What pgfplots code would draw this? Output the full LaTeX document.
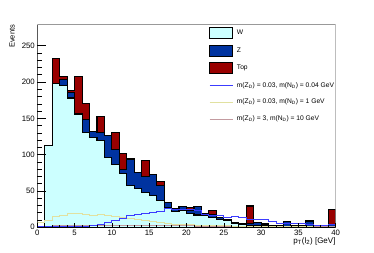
\documentclass[border=0pt]{standalone}
\usepackage{fontspec}
\setmainfont{Liberation Sans}
\usepackage{pgfplots}
\usepackage{pgfplotstable}
\pgfplotsset{compat=1.18}
\definecolor{wcol}{RGB}{204,255,255}
\definecolor{zcol}{RGB}{0,51,160}
\definecolor{tcol}{RGB}{153,0,0}
\definecolor{sone}{RGB}{60,60,255}
\definecolor{stwo}{RGB}{225,225,160}
\definecolor{sthree}{RGB}{195,155,160}
\pgfplotstableread{
x W Z T S1 S2 S3
0 0 0 0 0.5 7 0.5
1 113 0 0 0.5 9 1.5
2 198 0 34 0.5 14.6 2
3 195 8 5 0.5 16 2.5
4 178 8 2 0.5 19.3 2.5
5 155 2 51 0.5 18.5 2.5
6 130 19 22 1 18 2.5
7 124 8 0 2 17 2.5
8 120 10 22 4 17.5 2.5
9 96 30 0 7 16.6 2.5
10 86 21 23 10 15.6 2.5
11 74 6 22 12 13.8 2.5
12 58 36 0 17 12 2.5
13 53 23 0 18 11 2
14 48 22 22 19.5 9 2
15 43.5 29.5 0 20.7 7.8 2
16 36.5 21.5 5.5 22.5 6.5 2
17 27.5 7 0 26 5.5 2
18 21.5 4.6 0 25 4.5 2
19 23.5 4.9 0 25 4 2
20 19.3 4.5 3.2 24.8 3.5 2
21 17 11.4 0 23 3 1.5
22 16 3.3 0 18 2.5 1.5
23 13 5 5 16.5 2.5 1.5
24 11 3 0 16 2 1.5
25 9 1 0 13.8 2 1.5
26 5 1.3 0 15.6 1.5 1.5
27 4 1 0 13.3 1.5 1.5
28 3 2.3 24 11.4 1.2 1.5
29 3 3.3 0 11.4 1 1
30 2.5 2 0 11.4 0.8 1
31 2 1 0 7.7 0.8 1
32 1.5 1.5 0 5.5 0.6 1
33 1.5 6.2 0 5.5 0.6 1
34 1 1 0 5 0.5 1
35 1 1 0 5 0.5 1
36 1 7.7 0 4 0.5 1
37 0 0 0 2 0.4 1
38 1 0 0 2 0.4 0.5
39 0.3 3 21.5 4 0.3 0.5
40 0.3 3 21.5 4 0.3 0.5
}\data
\begin{document}
\begin{tikzpicture}
\begin{axis}[
  name=ax,
  scale only axis, width=298.4pt, height=202.6pt,
  xmin=0, xmax=40, ymin=0, ymax=279,
  axis on top,
  axis line style={draw=none},
  tick align=inside, tick pos=left,
  xtick={0,5,...,40}, ytick={0,50,...,250},
  minor x tick num=4, minor y tick num=4,
  xtick style={black, line width=0.6pt, /pgfplots/major tick length=4.5pt, /pgfplots/minor tick length=2.5pt},
  ytick style={black, line width=0.6pt, /pgfplots/major tick length=9pt, /pgfplots/minor tick length=5pt},
  /pgf/number format/assume math mode=true,
  ticklabel style={font=\fontsize{7.8}{9}\selectfont},
  yticklabel style={inner sep=0pt, xshift=-2.3pt},
  xticklabel style={inner sep=0pt, yshift=-2.6pt},
  xlabel={p\textsubscript{T}(l\textsubscript{2}) [GeV]},
  xlabel style={at={(rel axis cs:1,0)}, anchor=north east, inner sep=0pt, yshift=-9.8pt, font=\fontsize{8}{9}\selectfont},
  ylabel={Events},
  ylabel style={at={(rel axis cs:-0.0747,1)}, anchor=south east, inner sep=0pt, rotate=0, font=\fontsize{7.5}{9}\selectfont},
  legend style={at={(rel axis cs:0.5764,0.9872)}, anchor=north west,
    draw=none, fill=none, inner sep=0pt, outer sep=0pt,
    font=\fontsize{6.7}{8}\selectfont, row sep=5.7pt,
    /tikz/every odd column/.append style={column sep=3.7pt},
    cells={anchor=west}, nodes={inner sep=0pt}},
  legend cell align=left,
]
\addplot[const plot, fill=tcol, draw=black, line width=1.1pt, forget plot]
  table[x=x, y expr=\thisrow{W}+\thisrow{Z}+\thisrow{T}] {\data} \closedcycle;
\addplot[const plot, fill=zcol, draw=black, line width=1.1pt, forget plot]
  table[x=x, y expr=\thisrow{W}+\thisrow{Z}] {\data} \closedcycle;
\addplot[const plot, fill=wcol, draw=black, line width=1.1pt, forget plot]
  table[x=x, y=W] {\data} \closedcycle;
\addplot[const plot, draw=sthree, line width=0.9pt, forget plot] table[x=x, y=S3] {\data};
\addplot[const plot, draw=stwo, line width=0.9pt, forget plot] table[x=x, y=S2] {\data};
\addplot[const plot, draw=sone, line width=0.9pt, forget plot] table[x=x, y=S1] {\data};
\addlegendimage{legend image code/.code={\draw[fill=wcol, draw=black, line width=0.9pt] (0pt,-5.5pt) rectangle (23pt,5.5pt);}}
\addlegendentry{W}
\addlegendimage{legend image code/.code={\draw[fill=zcol, draw=black, line width=0.9pt] (0pt,-5.5pt) rectangle (23pt,5.5pt);}}
\addlegendentry{Z}
\addlegendimage{legend image code/.code={\draw[fill=tcol, draw=black, line width=0.9pt] (0pt,-5.5pt) rectangle (23pt,5.5pt);}}
\addlegendentry{Top}
\addlegendimage{legend image code/.code={\path[draw=none, fill=none] (0pt,-5.5pt) rectangle (23pt,5.5pt); \draw[sone, line width=0.9pt] (0pt,0pt) -- (23pt,0pt);}}
\addlegendentry{m(Z\textsubscript{D}) = 0.03, m(N\textsubscript{D}) = 0.04 GeV}
\addlegendimage{legend image code/.code={\path[draw=none, fill=none] (0pt,-5.5pt) rectangle (23pt,5.5pt); \draw[stwo, line width=0.9pt] (0pt,0pt) -- (23pt,0pt);}}
\addlegendentry{m(Z\textsubscript{D}) = 0.03, m(N\textsubscript{D}) = 1 GeV}
\addlegendimage{legend image code/.code={\path[draw=none, fill=none] (0pt,-5.5pt) rectangle (23pt,5.5pt); \draw[sthree, line width=0.9pt] (0pt,0pt) -- (23pt,0pt);}}
\addlegendentry{m(Z\textsubscript{D}) = 3, m(N\textsubscript{D}) = 10 GeV}
\draw[gray!80, line width=0.8pt] (rel axis cs:0,1) -- (rel axis cs:1,1) -- (rel axis cs:1,0);
\draw[black, line width=0.8pt] (rel axis cs:0,1) -- (rel axis cs:0,0) -- (rel axis cs:1,0);
\node[anchor=base west, inner sep=0pt, font=\fontsize{8.5}{10}\selectfont] at (rel axis cs:0.0147,1) [yshift=4pt] {$\sqrt{\mbox{s}}$ = 13 TeV, 150 fb\textsuperscript{-1}};
\end{axis}
\pgfresetboundingbox
\path[use as bounding box] (ax.south west) ++(-37.3pt,-25.7pt) rectangle ++(374pt,253pt);
\end{tikzpicture}
\end{document}
